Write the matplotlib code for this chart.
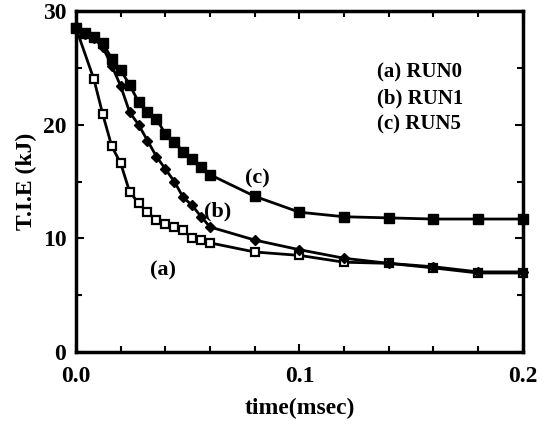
import matplotlib
matplotlib.use("Agg")
from matplotlib import pyplot as plt
from matplotlib.ticker import MultipleLocator
import numpy as np

plt.rcParams['font.family'] = ['Liberation Serif', 'DejaVu Serif']

# RUN0 (a)
t_a = [0, 0.008, 0.012, 0.016, 0.020, 0.024, 0.028, 0.032, 0.036, 0.040, 0.044,
       0.048, 0.052, 0.056, 0.060, 0.08, 0.10, 0.12, 0.14, 0.16, 0.18, 0.20]
e_a = [28.5, 24.0, 20.9, 18.1, 16.6, 14.1, 13.1, 12.3, 11.6, 11.3, 11.0,
       10.7, 10.0, 9.85, 9.6, 8.8, 8.5, 7.9, 7.8, 7.4, 6.95, 6.95]
# RUN1 (b)
t_b = [0, 0.004, 0.008, 0.012, 0.016, 0.020, 0.024, 0.028, 0.032, 0.036, 0.040,
       0.044, 0.048, 0.052, 0.056, 0.060, 0.08, 0.10, 0.12, 0.14, 0.16, 0.18, 0.20]
e_b = [28.5, 28.0, 27.6, 26.8, 25.2, 23.4, 21.1, 20.0, 18.6, 17.2, 16.1,
       15.0, 13.6, 12.9, 11.9, 11.0, 9.85, 9.0, 8.25, 7.8, 7.5, 7.05, 7.05]
# RUN5 (c)
t_c = [0, 0.004, 0.008, 0.012, 0.016, 0.020, 0.024, 0.028, 0.032, 0.036, 0.040,
       0.044, 0.048, 0.052, 0.056, 0.060, 0.08, 0.10, 0.12, 0.14, 0.16, 0.18, 0.20]
e_c = [28.5, 28.1, 27.7, 27.2, 25.8, 24.8, 23.5, 22.0, 21.1, 20.5, 19.2,
       18.5, 17.6, 17.0, 16.3, 15.6, 13.7, 12.3, 11.9, 11.8, 11.7, 11.7, 11.7]

legend_lines = ["(a) RUN0", "(b) RUN1", "(c) RUN5"]

fig = plt.figure(figsize=(5.48, 4.24), dpi=100)
ax = fig.add_axes([0.1387, 0.1698, 0.8153, 0.8042])

ax.plot(t_a, e_a, color='black', lw=2, marker='s', ms=6, mfc='white',
        mec='black', mew=1.6, clip_on=False, zorder=3)
ax.plot(t_b, e_b, color='black', lw=2, marker='D', ms=5, mfc='black',
        mec='black', clip_on=False, zorder=3)
ax.plot(t_c, e_c, color='black', lw=2, marker='s', ms=7.5, mfc='black',
        mec='black', clip_on=False, zorder=3)

ax.set_xlim(0, 0.2)
ax.set_ylim(0, 30)
ax.xaxis.set_minor_locator(MultipleLocator(0.02))
ax.yaxis.set_major_locator(MultipleLocator(10))
ax.yaxis.set_minor_locator(MultipleLocator(5))
ax.set_xticks([0, 0.1, 0.2])
ax.set_xticklabels(['0.0', '0.1', '0.2'])

ax.tick_params(which='both', direction='in', top=True, right=True, width=1.5)
ax.tick_params(which='major', length=6, labelsize=17)
ax.tick_params(axis='y', which='major', pad=7)
ax.tick_params(axis='x', which='major', pad=10)
ax.tick_params(which='minor', length=4)
for lbl in ax.get_xticklabels() + ax.get_yticklabels():
    lbl.set_fontweight('bold')
for sp in ax.spines.values():
    sp.set_linewidth(2.5)

ax.set_xlabel('time(msec)', fontsize=17, fontweight='bold', labelpad=8)
ax.set_ylabel('T.I.E (kJ)', fontsize=17, fontweight='bold', labelpad=4)

ax.text(0.039, 7.2, '(a)', fontsize=16, fontweight='bold', ha='center', va='center')
ax.text(0.0635, 12.4, '(b)', fontsize=16, fontweight='bold', ha='center', va='center')
ax.text(0.081, 15.3, '(c)', fontsize=16, fontweight='bold', ha='center', va='center')

for i, s in enumerate(legend_lines):
    ax.text(0.673, 0.821 - 0.077 * i, s, transform=ax.transAxes, fontsize=15,
            fontweight='bold', ha='left', va='center')

fig.savefig('out.png', dpi=100)
